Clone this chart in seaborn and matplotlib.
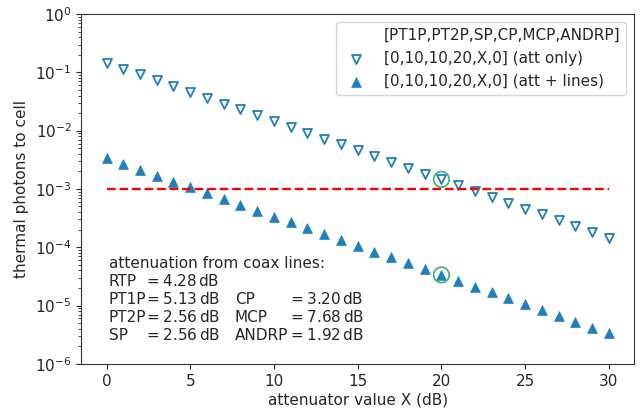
import numpy as np
import pandas as pd
import matplotlib
matplotlib.use("Agg")
import matplotlib.pyplot as plt
import seaborn as sns

# attenuator setting X (dB)
att_db = list(range(0, 31))

# thermal photon number at the cell, attenuators only
att_only = [0.146, 0.116, 0.092, 0.073, 0.058, 0.046, 0.0366, 0.0291, 0.0231, 0.0184,
            0.0146, 0.0116, 0.0092, 0.0073, 0.0058, 0.0046, 0.00366, 0.00291, 0.00231, 0.00184,
            0.00146, 0.00116, 0.00092, 0.00073, 0.00058, 0.00046, 0.000366, 0.000291, 0.000231,
            0.000184, 0.000146]

# thermal photon number at the cell, attenuators plus coax line losses
att_lines = [0.00335, 0.00266, 0.00211, 0.00168, 0.00133, 0.00106, 0.00084, 0.00067, 0.00053,
             0.00042, 0.000335, 0.000266, 0.000211, 0.000168, 0.000133, 0.000106, 8.4e-05,
             6.7e-05, 5.3e-05, 4.2e-05, 3.35e-05, 2.66e-05, 2.11e-05, 1.68e-05, 1.33e-05,
             1.06e-05, 8.4e-06, 6.7e-06, 5.3e-06, 4.2e-06, 3.35e-06]

target_level = 1e-3
chosen_x = 20

legend_labels = ["[PT1P,PT2P,SP,CP,MCP,ANDRP]",
                 "[0,10,10,20,X,0] (att only)",
                 "[0,10,10,20,X,0] (att + lines)"]

line_names_left = ["RTP", "PT1P", "PT2P", "SP"]
line_vals_left = [4.28, 5.13, 2.56, 2.56]
line_names_right = ["CP", "MCP", "ANDRP"]
line_vals_right = [3.20, 7.68, 1.92]

df = pd.DataFrame({"X": att_db, "att_only": att_only, "att_lines": att_lines})

sns.set_style("ticks")
plt.rcParams["font.family"] = ["DejaVu Sans"]
plt.rcParams["font.size"] = 11

blue = "#1f7fc0"
W, H = 641, 413
fig = plt.figure(figsize=(W / 100, H / 100), dpi=100)
ax = fig.add_axes([0.127, 0.119, 0.862, 0.847])

ax.plot([], [], " ", label=legend_labels[0])
sns.scatterplot(data=df, x="X", y="att_only", marker="v", s=42,
                facecolor="white", edgecolor=blue, linewidth=1.3,
                label=legend_labels[1], ax=ax)
sns.scatterplot(data=df, x="X", y="att_lines", marker="^", s=50,
                color=blue, edgecolor=blue, linewidth=0.5,
                label=legend_labels[2], ax=ax)

ax.plot([att_db[0], att_db[-1]], [target_level, target_level],
        ls="--", color="red", lw=1.7, zorder=1)

i = att_db.index(chosen_x)
ax.scatter([chosen_x, chosen_x], [att_only[i], att_lines[i]], s=125,
           facecolor="none", edgecolor="#3cb371", linewidth=1.2, zorder=3)

ax.set_yscale("log")
ax.set_ylim(1e-6, 1)
ax.set_xlim(-1.5, 31.5)
ax.set_xticks([0, 5, 10, 15, 20, 25, 30])
ax.set_xlabel("attenuator value X (dB)", labelpad=3)
ax.set_ylabel("thermal photons to cell")
for s in ax.spines.values():
    s.set_visible(True)
    s.set_color("#333333")

leg = ax.legend(loc="upper right", fontsize=11, handlelength=1.8,
                handletextpad=0.9, borderpad=0.4, labelspacing=0.52)


def fx(px):
    return px / W


def fy(py):
    return 1 - py / H


fig.text(fx(109), fy(263), "attenuation from coax lines:", fontsize=11, va="center")
row_y = [281, 299, 317, 335]
for k, (n, v) in enumerate(zip(line_names_left, line_vals_left)):
    fig.text(fx(109), fy(row_y[k]), n, fontsize=11, va="center")
    fig.text(fx(144), fy(row_y[k]), r"$= %.2f\,$dB" % v, fontsize=11, va="center")
for k, (n, v) in enumerate(zip(line_names_right, line_vals_right)):
    fig.text(fx(235), fy(row_y[k + 1]), n, fontsize=11, va="center")
    fig.text(fx(288), fy(row_y[k + 1]), r"$= %.2f\,$dB" % v, fontsize=11, va="center")

fig.savefig("out.png", dpi=100)
